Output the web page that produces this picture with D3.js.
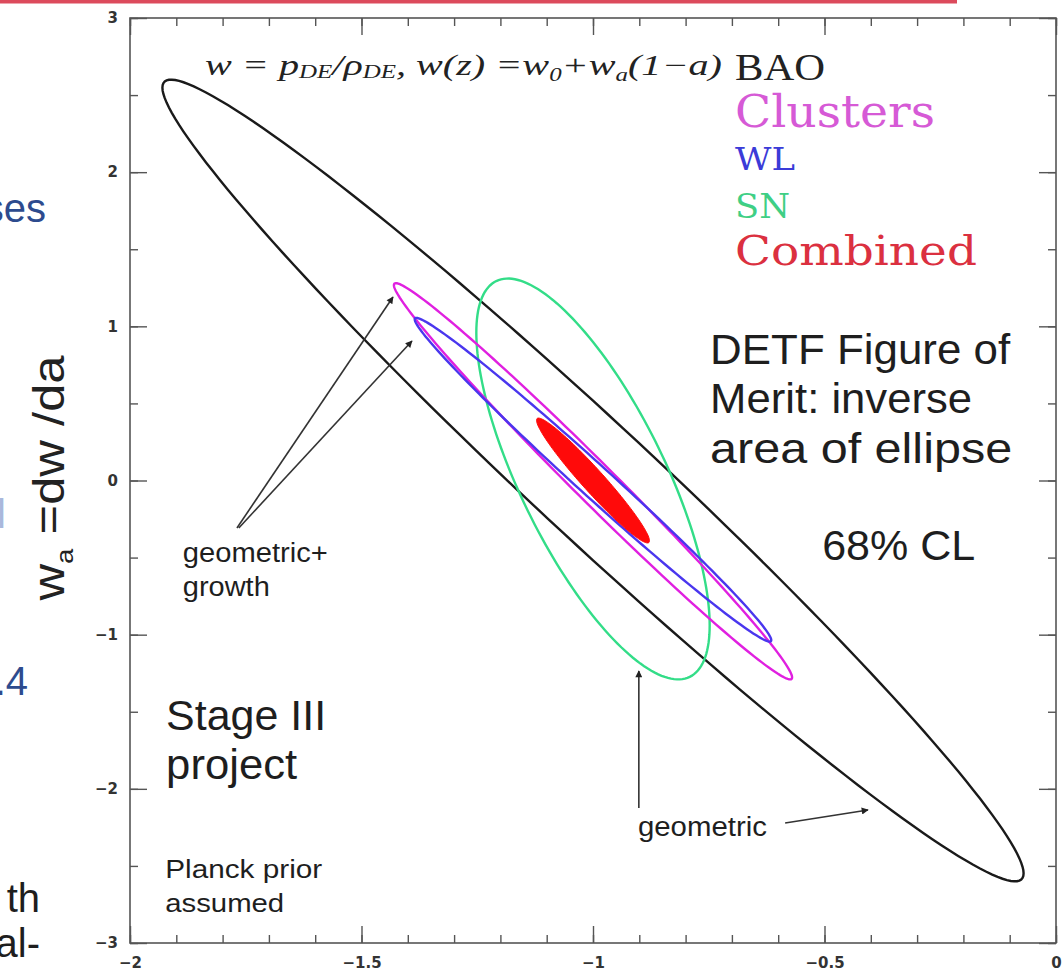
<!DOCTYPE html>
<html>
<head>
<meta charset="utf-8">
<script src="https://cdn.jsdelivr.net/npm/d3@7"></script>
<style>
  html, body { margin: 0; padding: 0; background: #fff; }
  svg { display: block; }
</style>
</head>
<body>
<svg id="fig" width="1064" height="975"></svg>
<script>
// 68% CL forecast contours in the (w0, wa) plane, one per probe.
// Each contour: centre, half-extent along w0 and wa, and the w0–wa correlation.
const probes    = ["BAO", "Clusters", "WL", "SN", "Combined"];
const centerW0  = [-1.0, -1.0, -1.0, -1.0, -1.0];
const centerWa  = [0.0, -0.005, 0.005, 0.01, 0.0];
const halfW0    = [0.93, 0.43, 0.385, 0.252, 0.122];
const halfWa    = [2.60, 1.285, 1.05, 1.30, 0.405];
const corrW0Wa  = [-0.98, -0.99, -0.991, -0.73, -0.965];

const xMajorTicks = [-2, -1.5, -1, -0.5, 0];
const xTickLabels = ["−2", "−1.5", "−1", "−0.5", "0"];
const yMajorTicks = [3, 2, 1, 0, -1, -2, -3];
const yTickLabels = ["3", "2", "1", "0", "−1", "−2", "−3"];

// Annotation arrows (from -> to), in (w0, wa) units
const arrowFrom = [[-1.769, -0.308], [-1.765, -0.308], [-0.901, -2.124], [-0.585, -2.222]];
const arrowTo   = [[-1.432, 1.190], [-1.391, 0.905], [-0.901, -1.236], [-0.406, -2.137]];

const svg = d3.select("#fig");
const frame = { left: 130, right: 1056, top: 18, bottom: 943 };

const x = d3.scaleLinear().domain([-2, 0]).range([frame.left, frame.right]);
const y = d3.scaleLinear().domain([-3, 3]).range([frame.bottom, frame.top]);

// slide header rule
svg.append("line")
  .attr("x1", 0).attr("x2", 957).attr("y1", 1.5).attr("y2", 1.5)
  .attr("stroke", "#dc4a5c").attr("stroke-width", 4);

// fragments of the surrounding slide text
const sideText = [
  { t: "ses", x: 46, y: 222, c: "#2d4b8e" },
  { t: ".4",  x: 28, y: 695, c: "#2d4b8e" },
  { t: "l",   x: 6,  y: 528, c: "#a9b8dc" },
  { t: "th",  x: 40, y: 912, c: "#1e1e1e" },
  { t: "al-", x: 40, y: 957, c: "#1e1e1e" }
];
svg.append("g").selectAll("text").data(sideText).join("text")
  .attr("x", d => d.x).attr("y", d => d.y)
  .attr("text-anchor", "end")
  .attr("font-family", "Liberation Sans, Arial, sans-serif")
  .attr("font-size", 40)
  .attr("fill", d => d.c)
  .text(d => d.t);

// ---- axes: ticks point inward on all four sides ----
const axisColor = "#555";
function addAxis(gen, tx, ty) {
  const g = svg.append("g").attr("transform", `translate(${tx},${ty})`).call(gen);
  g.select(".domain").remove();
  g.selectAll("line").attr("stroke", axisColor).attr("stroke-width", 1.4);
  g.selectAll("text")
    .attr("font-family", "DejaVu Sans, sans-serif")
    .attr("font-weight", "bold")
    .attr("font-size", 15)
    .attr("fill", "#333");
  return g;
}
const xMinor = x.ticks(20);
const yMinor = y.ticks(12);

addAxis(d3.axisBottom(x).tickValues(xMajorTicks).tickFormat((d, i) => xTickLabels[i])
  .tickSizeInner(-17).tickSizeOuter(0).tickPadding(14), 0, frame.bottom);
addAxis(d3.axisBottom(x).tickValues(xMinor).tickFormat("").tickSizeInner(-8).tickSizeOuter(0), 0, frame.bottom);
addAxis(d3.axisTop(x).tickValues(xMajorTicks).tickFormat("").tickSizeInner(-17).tickSizeOuter(0), 0, frame.top);
addAxis(d3.axisTop(x).tickValues(xMinor).tickFormat("").tickSizeInner(-8).tickSizeOuter(0), 0, frame.top);
addAxis(d3.axisLeft(y).tickValues(yMajorTicks).tickFormat((d, i) => yTickLabels[i])
  .tickSizeInner(-17).tickSizeOuter(0).tickPadding(12), frame.left, 0);
addAxis(d3.axisLeft(y).tickValues(yMinor).tickFormat("").tickSizeInner(-8).tickSizeOuter(0), frame.left, 0);
addAxis(d3.axisRight(y).tickValues(yMajorTicks).tickFormat("").tickSizeInner(-17).tickSizeOuter(0), frame.right, 0);
addAxis(d3.axisRight(y).tickValues(yMinor).tickFormat("").tickSizeInner(-8).tickSizeOuter(0), frame.right, 0);

svg.append("rect")
  .attr("x", frame.left).attr("y", frame.top)
  .attr("width", frame.right - frame.left).attr("height", frame.bottom - frame.top)
  .attr("fill", "none").attr("stroke", axisColor).attr("stroke-width", 1.6);

// ---- y-axis title: w_a = dw/da ----
const yTitle = svg.append("text")
  .attr("transform", "translate(64,478) rotate(-90)")
  .attr("text-anchor", "middle")
  .attr("font-family", "Liberation Sans, Arial, sans-serif")
  .attr("font-size", 44)
  .attr("fill", "#222")
  .attr("textLength", 245)
  .attr("lengthAdjust", "spacingAndGlyphs");
yTitle.append("tspan").text("w");
yTitle.append("tspan").attr("font-size", 24).attr("dy", 9).text("a");
yTitle.append("tspan").attr("dy", -9).text(" =dw /da");

// ---- contours ----
const strokeColors = ["#1a1a1a", "#e020e0", "#4a36ee", "#33dd88", "#ff0a0a"];
const drawOrder = [0, 3, 1, 2, 4];
const tSteps = d3.range(0, 361, 2).map(d => d * Math.PI / 180);
const ellipseLine = d3.line().x(p => x(p[0])).y(p => y(p[1])).curve(d3.curveLinearClosed);

function contourPoints(i) {
  const r = corrW0Wa[i], s = Math.sqrt(1 - r * r);
  return tSteps.map(t => [
    centerW0[i] + halfW0[i] * Math.cos(t),
    centerWa[i] + halfWa[i] * (r * Math.cos(t) + s * Math.sin(t))
  ]);
}

svg.append("g").selectAll("path").data(drawOrder).join("path")
  .attr("d", i => ellipseLine(contourPoints(i)))
  .attr("fill", i => probes[i] === "Combined" ? strokeColors[i] : "none")
  .attr("stroke", i => strokeColors[i])
  .attr("stroke-width", i => probes[i] === "Combined" ? 1 : 2.4);

// ---- arrows ----
svg.append("defs").append("marker")
  .attr("id", "head").attr("viewBox", "0 0 10 10")
  .attr("refX", 9).attr("refY", 5)
  .attr("markerWidth", 9).attr("markerHeight", 7)
  .attr("markerUnits", "userSpaceOnUse")
  .attr("orient", "auto")
  .append("path").attr("d", "M0,0 L10,5 L0,10 z").attr("fill", "#222");

svg.append("g").selectAll("line").data(arrowFrom).join("line")
  .attr("x1", d => x(d[0])).attr("y1", d => y(d[1]))
  .attr("x2", (d, i) => x(arrowTo[i][0])).attr("y2", (d, i) => y(arrowTo[i][1]))
  .attr("stroke", "#333").attr("stroke-width", 1.6)
  .attr("marker-end", "url(#head)");

// ---- annotation text ----
const notes = [
  { t: "DETF Figure of",  w0: -0.747, wa: 0.756,  fs: 42, len: 300 },
  { t: "Merit: inverse",  w0: -0.747, wa: 0.438,  fs: 42, len: 262 },
  { t: "area of ellipse", w0: -0.747, wa: 0.114,  fs: 42, len: 302 },
  { t: "68% CL",          w0: -0.505, wa: -0.516, fs: 42, len: 153 },
  { t: "Stage III",       w0: -1.922, wa: -1.618, fs: 42, len: 160 },
  { t: "project",         w0: -1.922, wa: -1.936, fs: 42, len: 131 },
  { t: "geometric+",      w0: -1.886, wa: -0.529, fs: 27, len: 145 },
  { t: "growth",          w0: -1.886, wa: -0.749, fs: 27, len: 87 },
  { t: "Planck prior",    w0: -1.924, wa: -2.578, fs: 26, len: 157 },
  { t: "assumed",         w0: -1.924, wa: -2.799, fs: 26, len: 119 },
  { t: "geometric",       w0: -0.903, wa: -2.306, fs: 27, len: 129 }
];
svg.append("g").selectAll("text").data(notes).join("text")
  .attr("x", d => x(d.w0)).attr("y", d => y(d.wa))
  .attr("font-family", "Liberation Sans, Arial, sans-serif")
  .attr("font-size", d => d.fs)
  .attr("fill", "#1e1e1e")
  .attr("textLength", d => d.len)
  .attr("lengthAdjust", "spacingAndGlyphs")
  .text(d => d.t);

// ---- parametrisation line ----
const formula = svg.append("text")
  .attr("x", 205).attr("y", 75)
  .attr("font-family", "Liberation Serif, Times New Roman, serif")
  .attr("font-style", "italic")
  .attr("font-size", 29)
  .attr("fill", "#222")
  .attr("textLength", 517)
  .attr("lengthAdjust", "spacingAndGlyphs");
formula.append("tspan").text("w = p");
formula.append("tspan").attr("font-size", 18).attr("dy", 3).text("DE");
formula.append("tspan").attr("dy", -3).text("/ρ");
formula.append("tspan").attr("font-size", 18).attr("dy", 3).text("DE");
formula.append("tspan").attr("dy", -3).text(", w(z) =w");
formula.append("tspan").attr("font-size", 18).attr("dy", 6).text("0");
formula.append("tspan").attr("dy", -6).text("+w");
formula.append("tspan").attr("font-size", 18).attr("dy", 6).text("a");
formula.append("tspan").attr("dy", -6).text("(1−a)");

// ---- legend ----
const legendColors = ["#222222", "#d65ad6", "#3b3bd8", "#3fcf85", "#db3040"];
const legendFonts  = ["Liberation Serif, serif", "DejaVu Serif, serif", "DejaVu Serif, serif", "DejaVu Serif, serif", "DejaVu Serif, serif"];
const legendSizes  = [38, 44, 31, 34, 41];
const legendLens   = [90, 200, 60, 55, 242];
const legendBase   = [80, 127, 170, 218, 265];
svg.append("g").selectAll("text").data(probes).join("text")
  .attr("x", 735).attr("y", (d, i) => legendBase[i])
  .attr("font-family", (d, i) => legendFonts[i])
  .attr("font-size", (d, i) => legendSizes[i])
  .attr("fill", (d, i) => legendColors[i])
  .attr("textLength", (d, i) => legendLens[i])
  .attr("lengthAdjust", "spacingAndGlyphs")
  .text(d => d);
</script>
</body>
</html>
